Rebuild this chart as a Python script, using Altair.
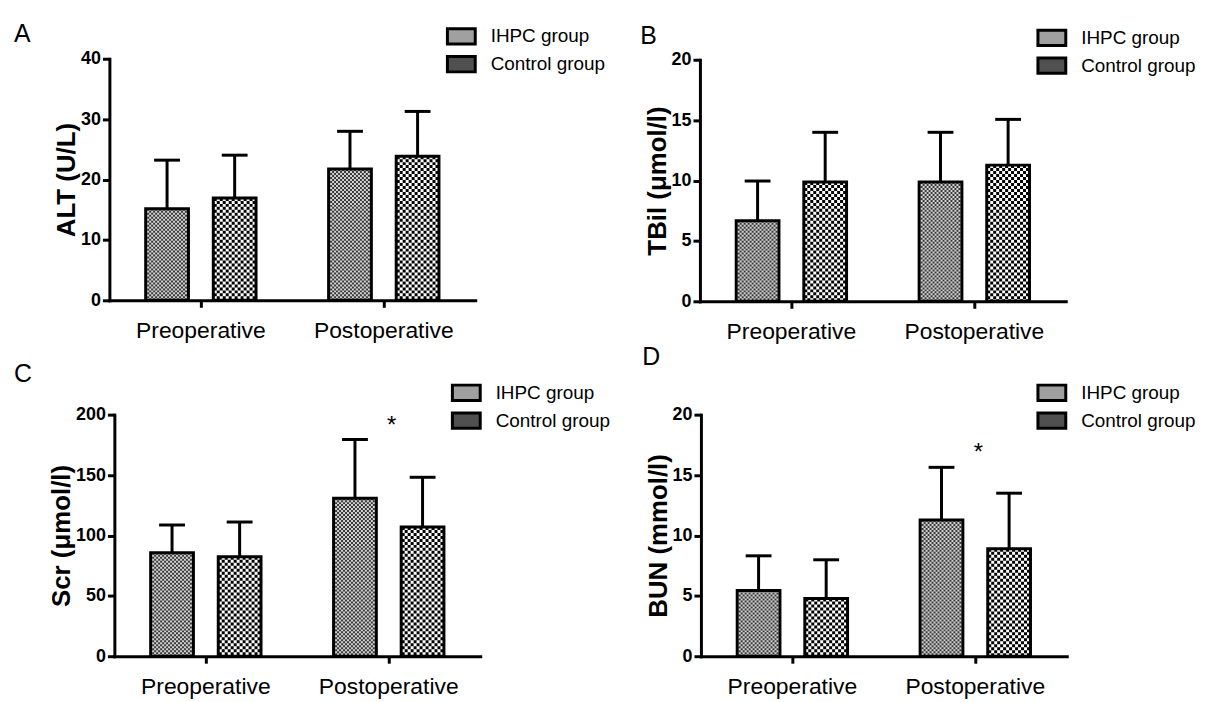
import altair as alt
import pandas as pd

# ---------------- data ----------------
periods = ["Preoperative", "Postoperative"]
groups = ["IHPC group", "Control group"]
panel_letters = ["A", "B", "C", "D"]
y_titles = ["ALT (U/L)", "TBil (μmol/l)", "Scr (μmol/l)", "BUN (mmol/l)"]
y_maxes = [40, 20, 200, 20]
y_steps = [10, 5, 50, 5]

alt_ihpc_mean = [15.2, 21.7]
alt_ihpc_upper = [23.2, 28.0]
alt_ctrl_mean = [16.9, 23.8]
alt_ctrl_upper = [24.0, 31.2]

tbil_ihpc_mean = [6.7, 9.9]
tbil_ihpc_upper = [10.0, 14.0]
tbil_ctrl_mean = [9.9, 11.3]
tbil_ctrl_upper = [14.0, 15.1]

scr_ihpc_mean = [85.2, 130.5]
scr_ihpc_upper = [109.0, 179.4]
scr_ctrl_mean = [82.4, 106.6]
scr_ctrl_upper = [111.0, 148.4]

bun_ihpc_mean = [5.4, 11.3]
bun_ihpc_upper = [8.3, 15.6]
bun_ctrl_mean = [4.8, 8.9]
bun_ctrl_upper = [8.0, 13.5]

# significance marker (*) per period, per panel
alt_sig = [False, False]
tbil_sig = [False, False]
scr_sig = [False, True]
bun_sig = [False, True]

panel_values = [
    (alt_ihpc_mean, alt_ihpc_upper, alt_ctrl_mean, alt_ctrl_upper, alt_sig),
    (tbil_ihpc_mean, tbil_ihpc_upper, tbil_ctrl_mean, tbil_ctrl_upper, tbil_sig),
    (scr_ihpc_mean, scr_ihpc_upper, scr_ctrl_mean, scr_ctrl_upper, scr_sig),
    (bun_ihpc_mean, bun_ihpc_upper, bun_ctrl_mean, bun_ctrl_upper, bun_sig),
]


def make_df(vals):
    im, iu, cm, cu, sig = vals
    rows = []
    for j, p in enumerate(periods):
        rows.append({"period": p, "group": groups[0], "mean": im[j], "upper": iu[j], "sig": sig[j]})
        rows.append({"period": p, "group": groups[1], "mean": cm[j], "upper": cu[j], "sig": sig[j]})
    return pd.DataFrame(rows)


# ---------------- layout / style ----------------
W, H = 1196, 694
x_ranges = [[102, 470], [696, 1064], [107, 475], [697, 1065]]
y_ranges = [[292, 49], [293, 50], [650, 407], [650, 407]]
legend_xy = [(446.5, 17), (1040.5, 18.5), (451.5, 375.5), (1040.5, 375.5)]
letter_xy = [(6, 32), (636, 34), (6, 374), (638, 357)]

FONT = "Liberation Sans"
BAR_W = 43
GROUP_DX = {groups[0]: -34, groups[1]: 34}
CELL = {groups[0]: 2, groups[1]: 3}
NCOL = {groups[0]: 20, groups[1]: 14}
BG = {groups[0]: "#d2d2d2", groups[1]: "#ffffff"}
FG = {groups[0]: "#3a3a3a", groups[1]: "#000000"}
LEGEND_FILL = ["#a0a0a0", "#505050"]


def panel(i):
    df = make_df(panel_values[i])
    xs = alt.Scale(domain=periods, range=x_ranges[i], paddingInner=0.5,
                   paddingOuter=0.25, round=False)
    ys = alt.Scale(domain=[0, y_maxes[i]], range=y_ranges[i], nice=False,
                   zero=True, round=True)
    xax = alt.Axis(orient="bottom", offset=y_ranges[i][0] - H, title=None,
                   labelAngle=0)
    yax = alt.Axis(orient="left", offset=-x_ranges[i][0],
                   values=list(range(0, y_maxes[i] + 1, y_steps[i])),
                   title=y_titles[i])
    X = alt.X("period:N", scale=xs, axis=xax, sort=periods)

    def Y(field):
        return alt.Y(f"{field}:Q", scale=ys, axis=yax)

    base = alt.Chart(df)
    layers = []
    # pattern fills
    for g in groups:
        f = alt.datum.group == g
        dx = GROUP_DX[g]
        layers.append(
            base.mark_bar(size=BAR_W, xOffset=dx, fill=BG[g], strokeWidth=0)
            .encode(x=X, y=Y("mean")).transform_filter(f)
        )
        c = CELL[g]
        n = NCOL[g]
        start = dx - n * c / 2 + c / 2
        for k in range(n):
            layers.append(
                base.mark_rule(strokeWidth=c, strokeDash=[c, c],
                               strokeDashOffset=(k % 2) * c,
                               xOffset=start + k * c, color=FG[g])
                .encode(x=X, y=Y("mean"), y2=alt.Y2("zero:Q"))
                .transform_filter(f).transform_calculate(zero="0")
            )
    # outlines, error bars, caps
    for g in groups:
        f = alt.datum.group == g
        dx = GROUP_DX[g]
        layers.append(
            base.mark_bar(size=BAR_W, xOffset=dx, fill="white", fillOpacity=0,
                          stroke="black", strokeWidth=3)
            .encode(x=X, y=Y("mean")).transform_filter(f)
        )
        layers.append(
            base.mark_rule(xOffset=dx, strokeWidth=3, color="black")
            .encode(x=X, y=Y("mean"), y2=alt.Y2("upper:Q")).transform_filter(f)
        )
        layers.append(
            base.mark_tick(xOffset=dx, size=26, thickness=3, color="black",
                           opacity=1)
            .encode(x=X, y=Y("upper")).transform_filter(f)
        )
    # significance asterisk
    layers.append(
        base.mark_text(text="*", fontSize=24, font=FONT, dx=3, dy=-7,
                       baseline="alphabetic", color="black")
        .encode(x=X, y=Y("top"))
        .transform_filter(alt.datum.sig == True)
        .transform_aggregate(top="max(upper)", groupby=["period"])
    )
    # legend carrier
    lx, ly = legend_xy[i]
    layers.append(
        base.mark_bar(size=BAR_W, stroke="black", strokeWidth=3)
        .encode(
            x=X, y=Y("mean"),
            fill=alt.Fill("group:N",
                          scale=alt.Scale(domain=groups, range=LEGEND_FILL),
                          legend=alt.Legend(title=None, orient="none",
                                            legendX=lx, legendY=ly)),
        )
        .transform_filter("false")
    )
    return alt.layer(*layers)


panels = [panel(i) for i in range(4)]

letters = []
for i, L in enumerate(panel_letters):
    lx, ly = letter_xy[i]
    letters.append(
        alt.Chart(pd.DataFrame({"letter": [L]}))
        .mark_text(align="left", baseline="alphabetic", fontSize=25, font=FONT,
                   color="black")
        .encode(x=alt.value(lx), y=alt.value(ly), text="letter:N")
    )

chart = (
    alt.layer(*panels, *letters)
    .resolve_scale(x="independent", y="independent", fill="independent")
    .resolve_axis(x="independent", y="independent")
    .resolve_legend(fill="independent")
    .properties(width=W, height=H, padding=0, background="white",
                autosize=alt.AutoSizeParams(type="none"))
    .configure_view(strokeWidth=0)
    .configure_axis(labelFont=FONT, titleFont=FONT, labelColor="black",
                    titleColor="black", domainColor="black", tickColor="black",
                    domainWidth=3, tickWidth=3, tickSize=7, grid=False,
                    domainCap="square")
    .configure_axisY(labelFontSize=18, labelFontWeight="bold", titleFontSize=26,
                     titleFontWeight="bold", labelPadding=2, titlePadding=1)
    .configure_axisX(labelFontSize=23, labelFontWeight="normal", labelPadding=12)
    .configure_legend(padding=0, labelFont=FONT, labelFontSize=19,
                      labelColor="black", symbolType="M-2,-1.1H2V1.1H-2Z",
                      symbolSize=196, symbolStrokeColor="black",
                      symbolStrokeWidth=3, labelOffset=20, rowPadding=-1,
                      symbolOpacity=1)
)

chart.save("out.html", embed_options={"renderer": "svg", "actions": False})
